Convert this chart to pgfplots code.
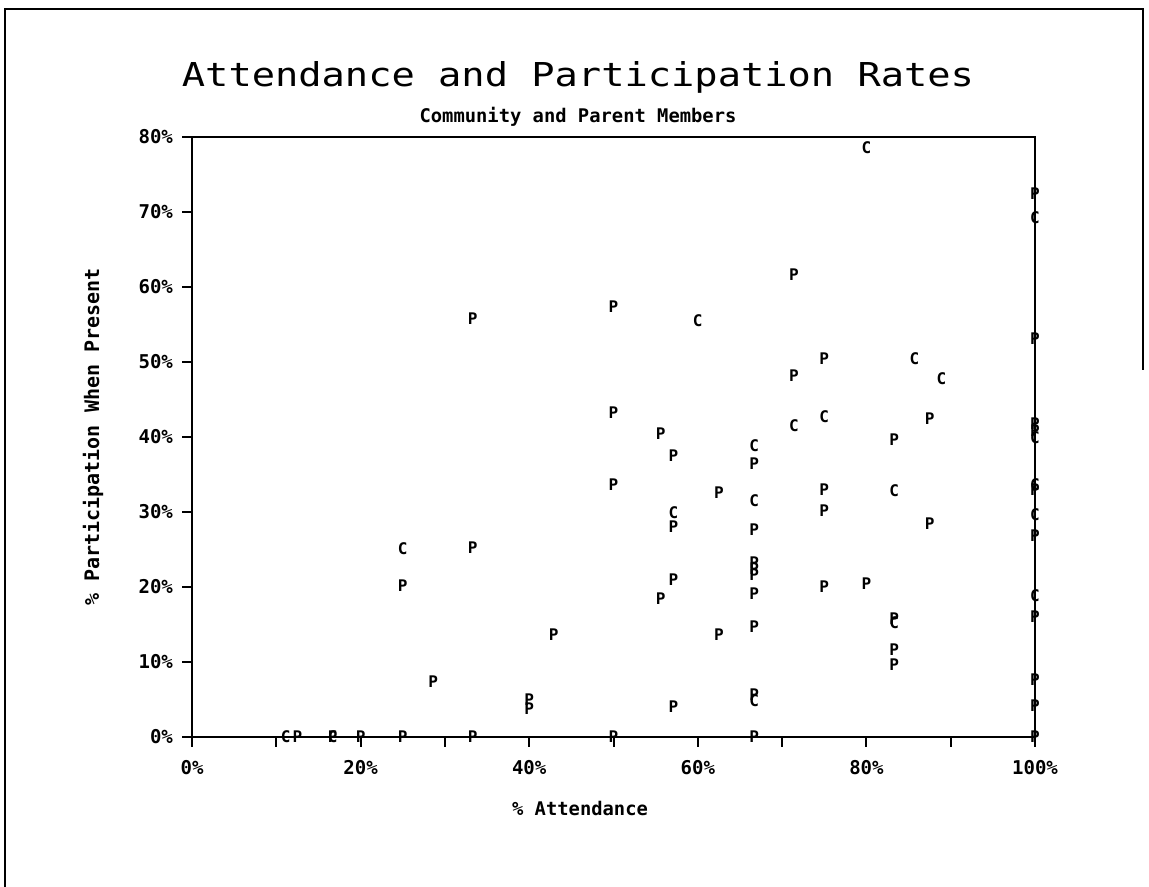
\documentclass[border=0pt]{standalone}
\usepackage{fontspec}
\setmainfont{DejaVu Sans}
\newfontfamily\mono{DejaVu Sans Mono}
\usepackage{pgfplots}
\usepackage{pgfplotstable}
\pgfplotsset{compat=1.18}

% Members who are Parents (P)
\pgfplotstableread{
x y
12.5 0
16.7 0
20 0
25 0
33.3 0
50 0
66.7 0
100 0
33.3 55.8
50 57.4
50 43.2
50 33.7
33.3 25.2
25 20.2
42.9 13.7
28.6 7.4
40 5.0
40 3.8
71.4 61.7
75 50.4
71.4 48.2
55.6 40.5
57.1 37.5
66.7 36.5
83.3 39.7
87.5 42.5
62.5 32.6
75 33.0
75 30.2
57.1 28.0
66.7 27.7
66.7 23.3
66.7 22.5
66.7 21.6
66.7 19.1
57.1 21.0
55.6 18.5
75 20.0
80 20.4
83.3 15.8
83.3 11.7
83.3 9.6
62.5 13.7
66.7 14.7
57.1 4.0
66.7 5.6
87.5 28.4
100 72.5
100 53.1
100 41.8
100 40.8
100 33.0
100 26.9
100 16.0
100 7.7
100 4.2
}\Pdata

% Community members (C)
\pgfplotstableread{
x y
11.1 0
16.7 0
80 78.6
100 69.3
60 55.5
85.7 50.4
88.9 47.8
71.4 41.5
75 42.7
66.7 38.9
66.7 31.5
83.3 32.8
57.1 29.9
25 25.1
66.7 4.8
83.3 15.2
100 39.9
100 33.6
100 29.6
100 18.9
}\Cdata

\begin{document}
\begin{tikzpicture}[x=1pt,y=1pt]
\useasboundingbox (0,0) rectangle (574.5,443.5);
\draw[line width=1pt] (2.5,0) -- (2.5,439) -- (571.5,439) -- (571.5,258.5);
\begin{axis}[
  at={(96pt,75pt)}, anchor=south west,
  scale only axis, width=421.5pt, height=300pt,
  xmin=0, xmax=100, ymin=0, ymax=80,
  clip=false,
  axis line style={line width=1.2pt},
  tick align=outside, tick pos=left,
  major tick length=5pt, minor tick length=5pt,
  every tick/.style={black, line width=1pt},
  xtick={0,20,...,100}, minor xtick={10,30,...,90},
  ytick={0,10,...,80},
  /pgf/number format/assume math mode=true,
  xticklabel={\pgfmathprintnumber{\tick}\%},
  yticklabel={\pgfmathprintnumber{\tick}\%},
  ticklabel style={font=\mono\bfseries\fontsize{9.5}{10}\selectfont},
  yticklabel style={xshift=-1pt},
  xticklabel style={yshift=-3pt},
]
\addplot[only marks, mark=text, text mark={P}, text mark as node=true,
  text mark style={font=\mono\bfseries\fontsize{8}{8}\selectfont, inner sep=0pt, anchor=center}]
  table[x=x,y=y]{\Pdata};
\addplot[only marks, mark=text, text mark={C}, text mark as node=true,
  text mark style={font=\mono\bfseries\fontsize{8}{8}\selectfont, inner sep=0pt, anchor=center}]
  table[x=x,y=y]{\Cdata};
\end{axis}
\node[font=\mono\fontsize{19.35}{20}\selectfont] at (289,405) {\scalebox{1}[0.85]{Attendance and Participation Rates}};
\node[font=\mono\bfseries\fontsize{9.4}{10}\selectfont] at (289,385) {Community and Parent Members};
\node[font=\mono\bfseries\fontsize{9.4}{10}\selectfont] at (290,39.5) {\% Attendance};
\node[font=\mono\bfseries\fontsize{10}{10}\selectfont, rotate=90] at (46.5,225) {\% Participation When Present};
\end{tikzpicture}
\end{document}
